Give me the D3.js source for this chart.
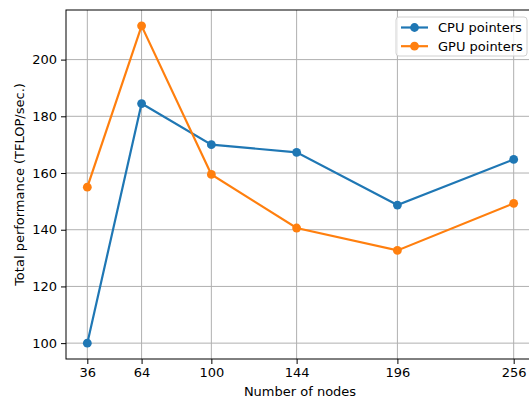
<!DOCTYPE html>
<html>
<head>
<meta charset="utf-8">
<script src="https://cdn.jsdelivr.net/npm/d3@7"></script>
<style>
  body { margin: 0; background: #fff; overflow: hidden; }
  svg text { font-family: "DejaVu Sans", sans-serif; fill: #000; }
</style>
</head>
<body>
<div id="chart"></div>
<script>
// data
var nodes = [36, 64, 100, 144, 196, 256];
var cpuPointers = [100.0, 184.5, 170.0, 167.3, 148.7, 164.8];
var gpuPointers = [155.0, 211.9, 159.5, 140.6, 132.7, 149.3];
var seriesNames = ["CPU pointers", "GPU pointers"];
var seriesColors = ["#1f77b4", "#ff7f0e"];
var yTicks = [100, 120, 140, 160, 180, 200];

var svgWidth = 529, svgHeight = 401;
var margin = { top: 10, left: 66, bottom: 42, right: -6 };
var chartWidth = svgWidth - margin.left - margin.right;
var chartHeight = svgHeight - margin.top - margin.bottom;

var svg = d3.select("#chart").append("svg")
    .attr("width", svgWidth)
    .attr("height", svgHeight);

var g = svg.append("g")
    .attr("transform", `translate(${margin.left}, ${margin.top})`);

// matplotlib style 5% padding on both axes
var xPad = (d3.max(nodes) - d3.min(nodes)) * 0.05;
var allY = cpuPointers.concat(gpuPointers);
var yPad = (d3.max(allY) - d3.min(allY)) * 0.05;

var x = d3.scaleLinear()
    .domain([d3.min(nodes) - xPad, d3.max(nodes) + xPad])
    .range([0, chartWidth]);
var y = d3.scaleLinear()
    .domain([d3.min(allY) - yPad, d3.max(allY) + yPad])
    .range([chartHeight, 0]);

// grid
g.append("g").selectAll("line").data(nodes).enter().append("line")
    .attr("x1", d => x(d)).attr("x2", d => x(d))
    .attr("y1", 0).attr("y2", chartHeight)
    .attr("stroke", "#b0b0b0").attr("stroke-width", 1);
g.append("g").selectAll("line").data(yTicks).enter().append("line")
    .attr("x1", 0).attr("x2", chartWidth)
    .attr("y1", d => y(d)).attr("y2", d => y(d))
    .attr("stroke", "#b0b0b0").attr("stroke-width", 1);

// axes
var xAxis = d3.axisBottom(x).tickValues(nodes).tickSize(5).tickPadding(4).tickFormat(d3.format("d"));
var yAxis = d3.axisLeft(y).tickValues(yTicks).tickSize(5).tickPadding(4).tickFormat(d3.format("d"));

var gx = g.append("g").attr("transform", `translate(0, ${chartHeight})`).call(xAxis);
var gy = g.append("g").call(yAxis);
[gx, gy].forEach(a => {
    a.selectAll("text").attr("font-size", 13).style("font-family", "DejaVu Sans");
    a.select(".domain").attr("stroke", "none");
    a.selectAll(".tick line").attr("stroke", "#000");
});

// spines
g.append("rect")
    .attr("x", 0).attr("y", 0)
    .attr("width", chartWidth).attr("height", chartHeight)
    .attr("fill", "none").attr("stroke", "#000").attr("stroke-width", 1);

// lines + markers
var series = [cpuPointers, gpuPointers];
var line = d3.line().x((d, i) => x(nodes[i])).y(d => y(d));
series.forEach((s, k) => {
    g.append("path")
        .datum(s)
        .attr("d", line)
        .attr("fill", "none")
        .attr("stroke", seriesColors[k])
        .attr("stroke-width", 2.2);
    g.append("g").selectAll("circle").data(s).enter().append("circle")
        .attr("cx", (d, i) => x(nodes[i]))
        .attr("cy", d => y(d))
        .attr("r", 4.4)
        .attr("fill", seriesColors[k]);
});

// legend
var leg = svg.append("g").attr("transform", "translate(396, 17)");
leg.append("rect")
    .attr("x", 0).attr("y", 0).attr("width", 131).attr("height", 39).attr("rx", 3)
    .attr("fill", "#fff").attr("fill-opacity", 0.8)
    .attr("stroke", "#d0d0d0");
seriesNames.forEach((name, k) => {
    var yy = 10.5 + k * 18.7;
    leg.append("line")
        .attr("x1", 5).attr("x2", 32).attr("y1", yy).attr("y2", yy)
        .attr("stroke", seriesColors[k]).attr("stroke-width", 2.2);
    leg.append("circle").attr("cx", 18.5).attr("cy", yy).attr("r", 4.4).attr("fill", seriesColors[k]);
    leg.append("text").attr("x", 42).attr("y", yy + 4.5).attr("font-size", 13).text(name);
});

// axis titles
svg.append("text")
    .attr("x", 300).attr("y", 396)
    .attr("text-anchor", "middle").attr("font-size", 13)
    .text("Number of nodes");
svg.append("text")
    .attr("transform", "rotate(-90)")
    .attr("x", -(margin.top + chartHeight / 2)).attr("y", 24)
    .attr("text-anchor", "middle").attr("font-size", 13)
    .text("Total performance (TFLOP/sec.)");
</script>
</body>
</html>
